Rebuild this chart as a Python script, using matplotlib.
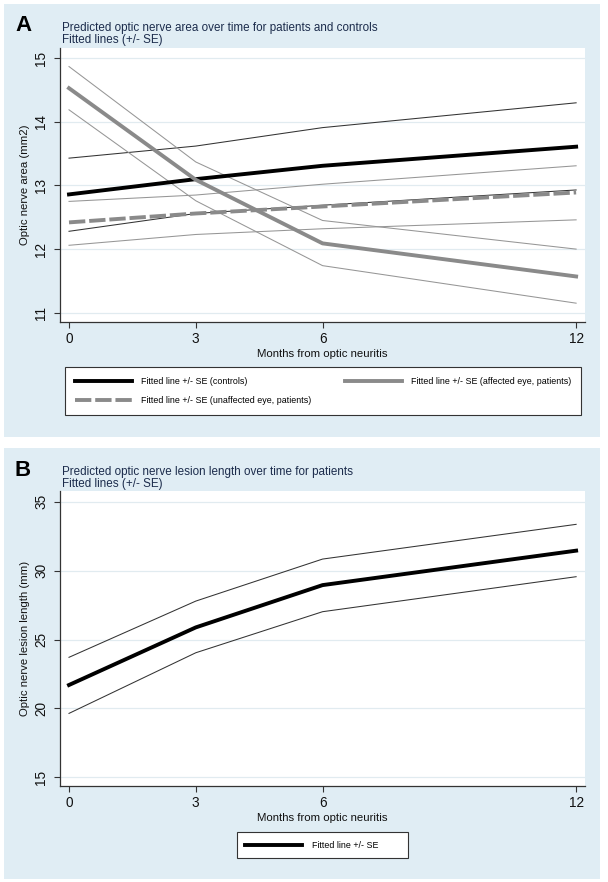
import matplotlib
matplotlib.use("Agg")
import matplotlib.pyplot as plt
from matplotlib.patches import Rectangle

plt.rcParams['font.family'] = ['Liberation Sans', 'DejaVu Sans']

# ---- data ----
months = [0, 3, 6, 12]

# panel A: optic nerve area (mm2)
controls_fit = [12.86, 13.10, 13.31, 13.61]
controls_hi = [13.43, 13.62, 13.91, 14.30]
controls_lo = [12.28, 12.56, 12.69, 12.93]
affected_fit = [14.53, 13.09, 12.09, 11.57]
affected_hi = [14.87, 13.37, 12.45, 12.00]
affected_lo = [14.19, 12.76, 11.74, 11.15]
unaffected_fit = [12.42, 12.56, 12.67, 12.89]
unaffected_hi = [12.75, 12.85, 13.02, 13.31]
unaffected_lo = [12.06, 12.23, 12.32, 12.46]
area_ticks = [11, 12, 13, 14, 15]

# panel B: lesion length (mm)
lesion_fit = [21.70, 25.88, 28.95, 31.45]
lesion_hi = [23.71, 27.79, 30.84, 33.36]
lesion_lo = [19.64, 24.04, 27.02, 29.56]
lesion_ticks = [15, 20, 25, 30, 35]

W, H = 608, 882
BG = '#e0edf4'
NAVY = '#1c2c4c'
AXC = '#333333'
GRAY = '#8a8a8a'
LTGRAY = '#969696'


def fig_box(x0, y0, x1, y1):
    # pixel box (top-left origin) -> figure fraction [left, bottom, width, height]
    return [x0 / W, 1 - y1 / H, (x1 - x0) / W, (y1 - y0) / H]


def fx(x):
    return x / W


def fy(y):
    return 1 - y / H


def style_axes(ax, ylim, yticks, ylabel):
    ax.set_facecolor('white')
    ax.set_xlim(-0.213, 12.21)
    ax.set_ylim(*ylim)
    ax.set_xticks(months)
    ax.set_yticks(yticks)
    ax.grid(axis='y', color='#e1ebf0', lw=0.9)
    ax.grid(axis='x', visible=False)
    ax.set_axisbelow(True)
    for side in ['top', 'right']:
        ax.spines[side].set_visible(False)
    for side in ['left', 'bottom']:
        ax.spines[side].set_color(AXC)
        ax.spines[side].set_linewidth(0.9)
    ax.tick_params(length=4, width=0.8, color=AXC, labelsize=9.8, labelcolor='#111111')
    ax.tick_params(axis='x', pad=3.2)
    ax.tick_params(axis='y', pad=4.5, labelrotation=90)
    for lab in ax.get_yticklabels():
        lab.set_va('center')
    ax.set_xlabel('Months from optic neuritis', fontsize=8.2, color='#111111', labelpad=2.5)
    ax.set_ylabel(ylabel, fontsize=8.2, color='#111111', va='center')
    ax.yaxis.set_label_coords(-(60 - 25.5) / 525, 0.5)


fig = plt.figure(figsize=(W / 100, H / 100), dpi=100, facecolor='white')

# light blue panel backgrounds, kept behind the axes
for (x0, y0, x1, y1) in [(4, 4.5, 600, 437), (4, 448, 600, 879)]:
    b = fig_box(x0, y0, x1, y1)
    fig.patches.append(Rectangle((b[0], b[1]), b[2], b[3], transform=fig.transFigure,
                                 facecolor=BG, edgecolor='none', zorder=-5))

# ---------------- panel A ----------------
axA = fig.add_axes(fig_box(60, 48.3, 585, 322))
style_axes(axA, (10.854, 15.157), area_ticks, 'Optic nerve area (mm2)')

thin = 0.75
axA.plot(months, controls_hi, color=AXC, lw=thin)
axA.plot(months, controls_lo, color=AXC, lw=thin)
axA.plot(months, affected_hi, color=LTGRAY, lw=thin)
axA.plot(months, affected_lo, color=LTGRAY, lw=thin)
axA.plot(months, unaffected_hi, color=LTGRAY, lw=thin)
axA.plot(months, unaffected_lo, color=LTGRAY, lw=thin)
l_ctrl, = axA.plot(months, controls_fit, color='black', lw=2.8,
                   label='Fitted line +/- SE (controls)')
l_aff, = axA.plot(months, affected_fit, color=GRAY, lw=2.8,
                  label='Fitted line +/- SE (affected eye, patients)')
l_unaff, = axA.plot(months, unaffected_fit, color=GRAY, lw=2.8, dashes=(4.2, 1.0),
                    label='Fitted line +/- SE (unaffected eye, patients)')

# order so that column 1 = controls / unaffected, column 2 = affected
legA = axA.legend(handles=[l_ctrl, l_unaff, l_aff], ncol=2, mode='expand',
                  loc='upper left', bbox_to_anchor=fig_box(65, 366.7, 581, 417),
                  bbox_transform=fig.transFigure, borderaxespad=0,
                  fontsize=6.4, handlelength=6.4, handletextpad=1.0,
                  borderpad=1.12, labelspacing=1.2, fancybox=False,
                  framealpha=1, facecolor='white', edgecolor=AXC)
legA.get_frame().set_linewidth(0.8)

fig.text(fx(15), fy(25.5), 'A', fontsize=16, fontweight='bold', va='center', ha='left')
fig.text(fx(62.5), fy(30.7), 'Predicted optic nerve area over time for patients and controls',
         fontsize=8.4, color=NAVY, va='baseline')
fig.text(fx(62.5), fy(43.5), 'Fitted lines (+/- SE)', fontsize=8.4, color=NAVY, va='baseline')

# ---------------- panel B ----------------
axB = fig.add_axes(fig_box(60, 491, 585, 786))
style_axes(axB, (14.37, 35.78), lesion_ticks, 'Optic nerve lesion length (mm)')

axB.plot(months, lesion_hi, color=AXC, lw=thin)
axB.plot(months, lesion_lo, color=AXC, lw=thin)
l_les, = axB.plot(months, lesion_fit, color='black', lw=2.8, label='Fitted line +/- SE')

legB = axB.legend(handles=[l_les], mode='expand', loc='upper left',
                  bbox_to_anchor=fig_box(236.7, 832.3, 407.7, 861),
                  bbox_transform=fig.transFigure, borderaxespad=0,
                  fontsize=6.4, handlelength=6.4, handletextpad=1.1,
                  borderpad=0.95, fancybox=False, framealpha=1,
                  facecolor='white', edgecolor=AXC)
legB.get_frame().set_linewidth(0.8)

fig.text(fx(15), fy(470.5), 'B', fontsize=16, fontweight='bold', va='center', ha='left')
fig.text(fx(62.5), fy(475), 'Predicted optic nerve lesion length over time for patients',
         fontsize=8.4, color=NAVY, va='baseline')
fig.text(fx(62.5), fy(487.5), 'Fitted lines (+/- SE)', fontsize=8.4, color=NAVY, va='baseline')

fig.savefig('out.png', dpi=100, facecolor='white')
